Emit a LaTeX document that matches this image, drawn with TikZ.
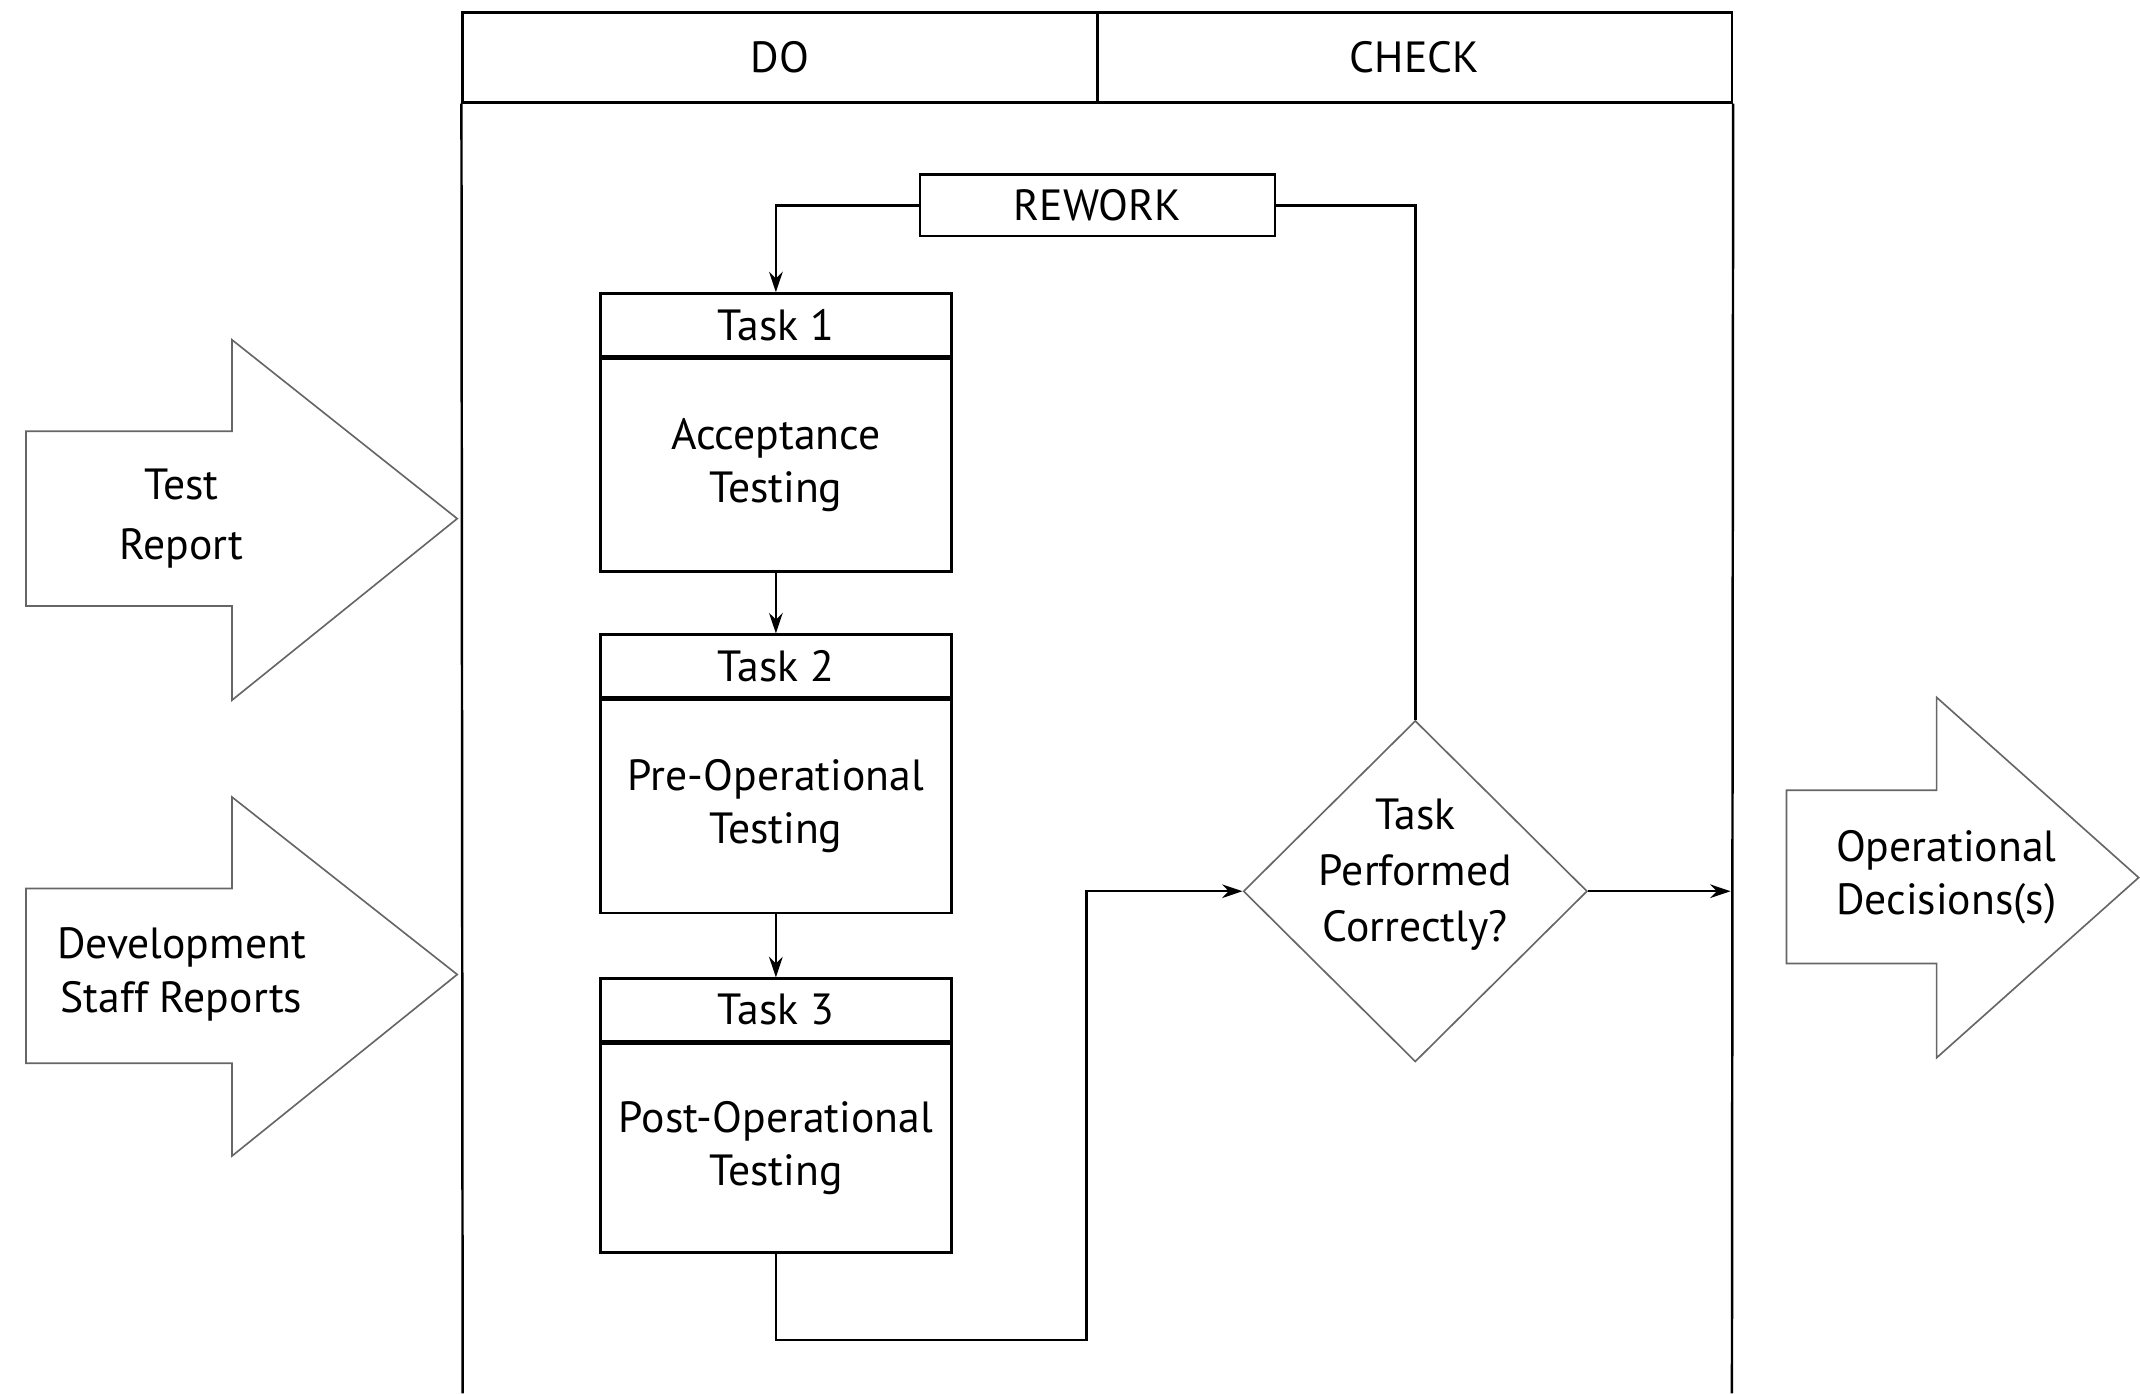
\documentclass[tikz,border=0pt]{standalone}
\usepackage{fontspec}
\setmainfont{PT Sans}
\usetikzlibrary{shapes.geometric,arrows.meta}
\begin{document}
\begin{tikzpicture}[x=1pt,y=-1pt,
  every node/.style={font=\fontsize{32}{39}\selectfont, inner sep=0pt},
  frameline/.style={line width=1.8pt, black},
  boxstyle/.style={draw, line width=1.8pt, rectangle, minimum width=257pt, align=center},
  hdr/.style={boxstyle, minimum height=46pt},
  body/.style={boxstyle, minimum height=156pt},
  grayline/.style={draw=black!60, line width=1.2pt, fill=white},
  conn/.style={line width=1.8pt},
  arr/.style={conn, -{Stealth[length=15pt,width=10pt]}}
]
\useasboundingbox (0,0) rectangle (1568,1021);

% frame
\node[draw, line width=1.8pt, minimum width=465pt, minimum height=66pt] (doh) at (571.5,42) {DO};
\node[draw, line width=1.8pt, minimum width=465pt, minimum height=66pt] (checkh) at (1036.5,42) {CHECK};
\coordinate (fbl) at (339,1021);
\coordinate (fbr) at (1269,1021);
\draw[frameline] (doh.south west) -- (fbl);
\draw[frameline] (checkh.south east) -- (fbr);

% rework
\node[draw, line width=1.8pt, minimum width=260pt, minimum height=45pt] (rework) at (804,150.5) {REWORK};

% tasks
\node[hdr] (t1h) at (568.5,238) {Task 1};
\node[body, anchor=north] (t1b) at (t1h.south) {Acceptance\\Testing};
\node[hdr] (t2h) at (568.5,488) {Task 2};
\node[body, anchor=north] (t2b) at (t2h.south) {Pre-Operational\\Testing};
\node[hdr] (t3h) at (568.5,740) {Task 3};
\node[body, minimum height=153pt, anchor=north] (t3b) at (t3h.south) {Post-Operational\\Testing};

% decision
\node[diamond, draw=black!60, line width=1.2pt, minimum width=252pt, minimum height=250pt] (dia) at (1037,653) {};
\node[align=center, font=\fontsize{32}{41}\selectfont] (diatext) at (1037,641) {Task\\Performed\\Correctly?};

% connectors
\draw[arr] (rework.west) -| (t1h.north);
\draw[conn] (rework.east) -| (dia.north);
\draw[arr] (t1b.south) -- (t2h.north);
\draw[arr] (t2b.south) -- (t3h.north);
\coordinate (c1) at (796,982);
\draw[arr] (t3b.south) |- (c1) |- (dia.west);
\coordinate (fr) at (1268,653);
\draw[arr] (dia.east) -- (fr);

% block arrows
\draw[grayline] (19,316) -- (170,316) -- (170,249) -- (335,380) -- (170,513) -- (170,444) -- (19,444) -- cycle;
\node[align=center, font=\fontsize{32}{44}\selectfont] (tr) at (133,380) {Test\\Report};
\draw[grayline] (19,651) -- (170,651) -- (170,584) -- (335,714) -- (170,847) -- (170,779) -- (19,779) -- cycle;
\node[align=center] (dsr) at (133,714) {Development\\Staff Reports};
\draw[grayline] (1309,579) -- (1419,579) -- (1419,511) -- (1567,643) -- (1419,775) -- (1419,706) -- (1309,706) -- cycle;
\node[align=center] (od) at (1426,643) {Operational\\Decisions(s)};
\end{tikzpicture}
\end{document}
